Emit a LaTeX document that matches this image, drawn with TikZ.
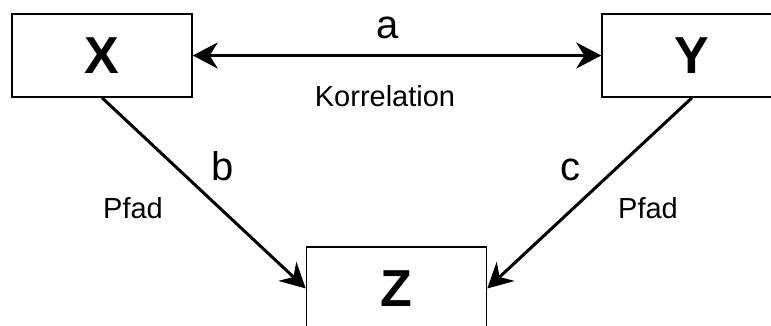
\documentclass[tikz,border=0pt]{standalone}
\usepackage{fontspec}
\setmainfont{Liberation Sans}
\usepackage{xcolor}
\usepackage{tikz}
\usetikzlibrary{arrows.meta,positioning}
\tikzset{
  every picture/.style={line width=1.5pt},
  var/.style={draw=black, fill=white, minimum width=180pt, minimum height=83pt, inner sep=0pt, font=\fontsize{52}{60}\selectfont\bfseries},
  coef/.style={font=\fontsize{40}{48}\selectfont, anchor=base, inner sep=0pt},
  note/.style={font=\fontsize{29}{34}\selectfont, anchor=base, inner sep=0pt},
  arrow/.style={-{Stealth[length=25pt, width=26pt]}, line width=3pt},
  twoway/.style={{Stealth[length=25pt, width=26pt]}-{Stealth[length=25pt, width=26pt]}, line width=3.5pt},
}

\begin{document}
\begin{tikzpicture}[x=1pt, y=-1pt]
  \useasboundingbox (0,0) rectangle (771,325);
  \node[var] (x) at (102,55.5) {X};
  \node[var] (y) at (692,55.5) {Y};
  \node[var] (z) at (396.5,288.5) {Z};
  % correlation
  \draw[twoway] (x.east) -- (y.west);
  \node[coef] (la) at (388,38) {a};
  \node[note] (lkorr) at (385,106) {Korrelation};
  % paths
  \draw[arrow] (x.south) -- (z.west);
  \draw[arrow] (y.south) -- (z.east);
  \node[coef] (lb) at (223,180) {b};
  \node[note] (lpfadb) at (133,218) {Pfad};
  \node[coef] (lc) at (570,180) {c};
  \node[note] (lpfadc) at (648,218) {Pfad};
\end{tikzpicture}
\end{document}
